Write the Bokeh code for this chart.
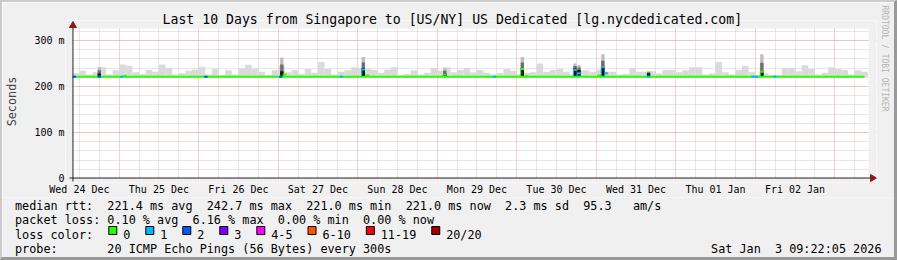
import math
from bokeh.plotting import figure
from bokeh.layouts import column
from bokeh.models import FixedTicker, Range1d, Title, Label
from bokeh.embed import file_html
from bokeh.resources import INLINE

# ---------------- data ----------------
TITLE = "Last 10 Days from Singapore to [US/NY] US Dedicated [lg.nycdedicated.com]"

# time axis: hours since Wed 24 Dec 2025 00:00
t_start = 9.9
t_end = 250.2
data_end = 249.0
y_max = 326.0

day_label_hours = [12, 36, 60, 84, 108, 132, 156, 180, 204, 228]
day_labels = ["Wed 24 Dec", "Thu 25 Dec", "Fri 26 Dec", "Sat 27 Dec", "Sun 28 Dec",
              "Mon 29 Dec", "Tue 30 Dec", "Wed 31 Dec", "Thu 01 Jan", "Fri 02 Jan"]
y_ticks = [0, 100, 200, 300]
y_tick_labels = ["0", "100 m", "200 m", "300 m"]

median_base = 221.0

# smoke (max of the 20 pings), 2-hour bins starting at hour 10
smoke_t0 = 10
smoke_bin = 2
smoke_top = [229, 234, 226, 231, 242, 226, 235, 248, 245, 231, 227, 236, 232, 248, 240, 226,
             229, 234, 237, 243, 226, 238, 225, 235, 226, 240, 247, 238, 232, 225, 235, 245,
             231, 236, 227, 238, 230, 253, 238, 226, 232, 235, 242, 240, 238, 236, 230, 237,
             242, 225, 227, 235, 226, 230, 240, 234, 242, 231, 236, 240, 231, 236, 230, 226,
             229, 238, 234, 227, 230, 231, 250, 232, 236, 238, 232, 226, 235, 235, 232, 236,
             232, 232, 226, 227, 240, 232, 232, 233, 228, 236, 236, 231, 235, 242, 242, 226,
             228, 253, 231, 226, 236, 245, 231, 225, 229, 225, 225, 240, 240, 233, 246, 238,
             226, 230, 242, 238, 236, 226, 235, 232]

# latency spikes (1-hour columns)
spike_h = [17.5, 72.6, 97.2, 121.8, 145.2, 161.1, 162.3, 169.5, 183.3, 217.5]
spike_top = [242, 263, 264, 240, 264, 250, 246, 270, 233, 270]
spike_core = [228, 233, 240, 228, 240, 239, 236, 242, 229, 233]

# median rtt segments that deviate (1 hour each): start hour, median ms, lost pings
seg_h = [10.0, 17.5, 24.3, 25.3, 49.7, 72.3, 73.5, 90.6, 97.2, 98.4, 121.8, 136.8,
         145.2, 146.4, 161.1, 162.3, 168.4, 169.5, 170.6, 183.3, 214.8, 215.8, 217.5, 221.4]
seg_ms = [221, 221, 221, 223, 221, 221, 226, 221, 237, 224, 226, 221,
          238, 222, 236, 229, 224, 242, 229, 221, 221, 221, 232, 221]
seg_loss = [2, 2, 1, 0, 2, 2, 0, 1, 1, 0, 0, 1,
            0, 0, 1, 1, 0, 1, 1, 1, 1, 1, 0, 1]

loss_keys = [0, 1, 2, 3, 5, 10, 19, 20]
loss_names = ["0", "1", "2", "3", "4-5", "6-10", "11-19", "20/20"]
loss_colors = ["#26ff00", "#00b8ff", "#0059ff", "#7e00ff", "#ff00ff", "#ff5500", "#ff0000", "#a00000"]

stats_rtt = ["median rtt:", "221.4 ms avg", "242.7 ms max", "221.0 ms min", "221.0 ms now",
             "2.3 ms sd", "95.3", "am/s"]
stats_loss = ["packet loss:", "0.10 % avg", "6.16 % max", "0.00 % min", "0.00 % now"]
loss_title = "loss color:"
probe_label = "probe:"
probe_text = "20 ICMP Echo Pings (56 Bytes) every 300s"
stamp = "Sat Jan  3 09:22:05 2026"
credit = "RRDTOOL / TOBI OETIKER"

# ---------------- layout (page pixels) ----------------
SH_L, SH_T, SH_R, SH_B = 2, 2, 3, 3          # 3D frame shades (css borders)
W = 897 - SH_L - SH_R
H_ALL = 260 - SH_T - SH_B
SPLIT = 197                                   # page y where the legend block starts
HP = SPLIT - SH_T
HQ = H_ALL - HP
CAN_L, CAN_R, CAN_T, CAN_B = 67, 868, 28, 178     # white canvas of the graph
FRM_L, FRM_R, FRM_T, FRM_B = 60, 876, 20, 182     # bokeh frame (a bit larger, for the arrows)
KX = (CAN_R - CAN_L) / (t_end - t_start)          # px per hour
KY = (CAN_B - CAN_T) / y_max                      # px per ms
MONO = "DejaVu Sans Mono"
NB = "\u00a0"
LEG = "11.8px"
CW = 7.104
X0 = 14.5
ROW_Y = [205.5, 219.8, 234.0, 248.2]               # text baselines of the legend rows
BG = "#f0f0f0"
AXC = "#202020"
ARC = "#8b1a1a"


def dx(px):
    return t_start + (px - CAN_L) / KX


def dy(py):
    return (CAN_B - py) / KY


def loss_color(n):
    for k, c in zip(loss_keys, loss_colors):
        if n <= k:
            return c
    return loss_colors[-1]


x0r, x1r = dx(FRM_L), dx(FRM_R)
y0r, y1r = dy(FRM_B), dy(FRM_T)

p = figure(width=W, height=HP, output_backend="svg", toolbar_location=None,
           x_range=Range1d(x0r, x1r), y_range=Range1d(y0r, y1r),
           min_border_left=FRM_L - SH_L, min_border_right=W - (FRM_R - SH_L),
           min_border_top=FRM_T - SH_T, min_border_bottom=HP - (FRM_B - SH_T),
           background_fill_color="white", border_fill_color=BG, outline_line_color=None)
p.frame_align = False

p.title.text = TITLE
p.title.text_font = MONO
p.title.text_font_size = "13.2px"
p.title.text_font_style = "normal"
p.title.text_color = "black"
p.title.align = "left"
p.title.offset = 157 - FRM_L
p.title.standoff = -12

# grids
midnights = list(range(24, 250, 24))
six_hours = [h for h in range(12, 251, 6) if h % 24 != 0]
p.xgrid.ticker = FixedTicker(ticks=midnights, minor_ticks=six_hours)
p.ygrid.ticker = FixedTicker(ticks=y_ticks, minor_ticks=list(range(20, 321, 20)))
for g in (p.xgrid[0], p.ygrid[0]):
    g.grid_line_color = "#ff9a9a"
    g.grid_line_dash = "1 1"
    g.minor_grid_line_color = "#cfcfcf"
    g.minor_grid_line_dash = "1 1"

# axes (labels only; the lines are drawn below with arrows)
xa = p.xaxis[0]
xa.ticker = FixedTicker(ticks=day_label_hours)
xa.major_label_overrides = {h: s for h, s in zip(day_label_hours, day_labels)}
ya = p.yaxis[0]
ya.ticker = FixedTicker(ticks=y_ticks)
ya.major_label_overrides = {v: s for v, s in zip(y_ticks, y_tick_labels)}
ya.axis_label = "Seconds"
ya.axis_label_text_font = MONO
ya.axis_label_text_font_size = LEG
ya.axis_label_text_font_style = "normal"
ya.axis_label_standoff = 12
for a in (xa, ya):
    a.axis_line_color = None
    a.major_tick_line_color = None
    a.minor_tick_line_color = None
    a.major_tick_out = 0
    a.major_tick_in = 0
    a.major_label_text_font = MONO
    a.major_label_text_font_size = "10px"
    a.major_label_text_color = "black"
xa.major_label_standoff = 1
ya.major_label_standoff = 1

# smoke
sl = [smoke_t0 + i * smoke_bin for i in range(len(smoke_top))]
sr = [t + smoke_bin for t in sl]
p.quad(left=sl, right=sr, bottom=median_base, top=smoke_top,
       fill_color="#dadada", line_color=None)

# spikes
sp_r = [h + 1 for h in spike_h]
sp_mid = [(a + b) / 2 for a, b in zip(spike_top, spike_core)]
p.quad(left=spike_h, right=sp_r, bottom=median_base, top=spike_top, fill_color="#bdbdbd", line_color=None)
p.quad(left=spike_h, right=sp_r, bottom=median_base, top=sp_mid, fill_color="#6e6e6e", line_color=None)
p.quad(left=spike_h, right=sp_r, bottom=median_base, top=spike_core, fill_color="#151515", line_color=None)

# median line
p.line([t_start + 0.1, data_end], [median_base, median_base], line_color=loss_colors[0], line_width=2)
seg_c = [loss_color(n) for n in seg_loss]
p.segment(x0=seg_h, y0=seg_ms, x1=[h + 1 for h in seg_h], y1=seg_ms, line_color=seg_c, line_width=2)
p.segment(x0=seg_h, y0=[median_base] * len(seg_h), x1=seg_h, y1=seg_ms, line_color=seg_c, line_width=1)

# background outside the white canvas
p.quad(left=[x0r, x0r, x0r, t_end], right=[x1r, x1r, t_start, x1r],
       bottom=[y_max, y0r, y0r, y0r], top=[y1r, 0, y1r, y1r],
       fill_color=BG, line_color=None)

# axis lines with arrow heads
p.segment(x0=[dx(CAN_L + 0.5), dx(CAN_L - 3)], y0=[dy(CAN_B + 3), dy(CAN_B - 0.5)],
          x1=[dx(CAN_L + 0.5), dx(CAN_R + 3)], y1=[dy(24), dy(CAN_B - 0.5)],
          line_color=AXC, line_width=1)
p.scatter(x=[dx(CAN_L + 0.5), dx(CAN_R + 4)], y=[dy(25), dy(CAN_B - 0.5)], marker="triangle",
          size=7, angle=[0, -math.pi / 2], fill_color=ARC, line_color=ARC)

p.add_layout(Title(text=credit, align="left", offset=-15, text_font=MONO, text_font_size="8px",
                   text_font_style="normal", text_color="#b4b4b4", standoff=6), "right")

# ---------------- legend block (pixel coordinates of the page) ----------------
q = figure(width=W, height=HQ, output_backend="svg", toolbar_location=None,
           x_axis_location=None, y_axis_location=None,
           x_range=Range1d(SH_L, SH_L + W), y_range=Range1d(SPLIT + HQ, SPLIT),
           min_border=0, background_fill_color=BG, border_fill_color=BG,
           outline_line_color=None)
q.frame_align = False
q.grid.visible = False


def columns(cols, parts):
    s = ""
    for c, t in zip(cols, parts):
        s = s + NB * max(c - len(s), 1 if s else 0) + t.replace(" ", NB)
    return s


def lab(px, py, text, align="left"):
    q.add_layout(Label(x=px, y=py, text=text, text_font=MONO, text_font_size=LEG,
                       text_color="black", text_align=align, text_baseline="alphabetic"))


lab(X0, ROW_Y[0], columns([0, 13, 27, 41, 55, 69, 80, 87], stats_rtt))
lab(X0, ROW_Y[1], columns([0, 13, 25, 37, 49], stats_loss))
lab(X0, ROW_Y[2], loss_title)
lab(X0, ROW_Y[3], columns([0, 13], [probe_label, probe_text]))
lab(881, ROW_Y[3], stamp.replace(" ", NB), align="right")

box_x = [108.3]
for name in loss_names[:-1]:
    box_x.append(box_x[-1] + 14.4 + len(name) * CW + 15.5)
q.quad(left=box_x, right=[b + 8 for b in box_x], top=[ROW_Y[2] - 8] * len(box_x),
       bottom=[ROW_Y[2]] * len(box_x), fill_color=loss_colors, line_color="black", line_width=1)
for bx, name in zip(box_x, loss_names):
    lab(bx + 14.4, ROW_Y[2], name)

page = column(p, q, spacing=0,
              styles={"border-left": f"{SH_L}px solid #cbcbcb", "border-top": f"{SH_T}px solid #cbcbcb",
                      "border-right": f"{SH_R}px solid #999999", "border-bottom": f"{SH_B}px solid #999999"})

open("out.html", "w").write(file_html(page, INLINE))
